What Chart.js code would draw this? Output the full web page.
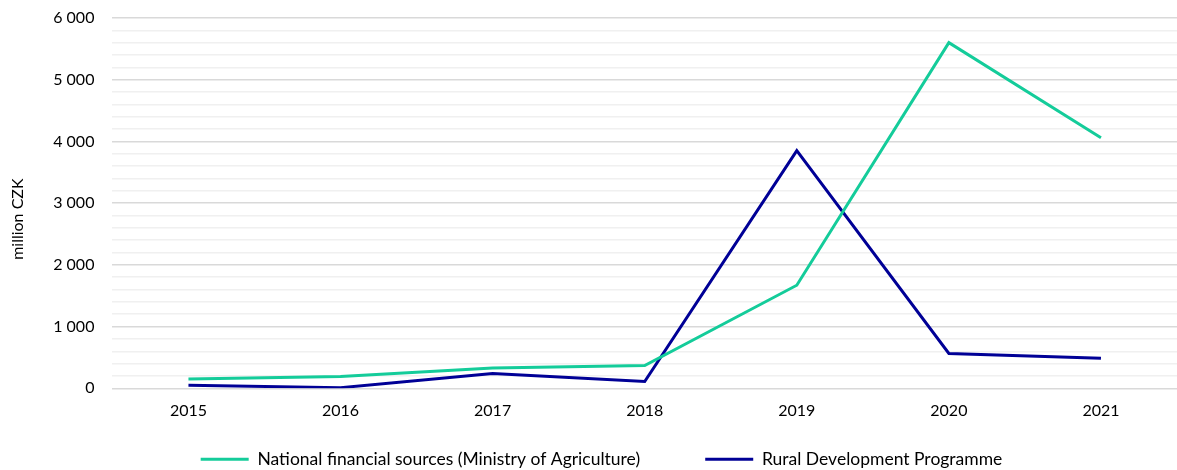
<!DOCTYPE html>
<html lang="en">
<head>
  <meta charset="UTF-8">
  <title>million CZK</title>
  <script src="https://cdn.jsdelivr.net/npm/chart.js"></script>
  <style>
    html, body {
      margin: 0;
      padding: 0;
      background: #fff;
    }
    #wrap {
      width: 1177px;
      height: 470px;
    }
  </style>
</head>
<body>

<div id="wrap"><canvas id="chart"></canvas></div>

<script>
const years = ['2015', '2016', '2017', '2018', '2019', '2020', '2021'];
const nationalSources = [150, 190, 330, 370, 1670, 5600, 4060];
const ruralProgramme = [50, 10, 240, 110, 3850, 565, 485];
const yTicks = [0, 1000, 2000, 3000, 4000, 5000, 6000];

// "6 000" style thousands separator
function fmt(v) {
  return String(v).replace(/\B(?=(\d{3})+(?!\d))/g, ' ');
}

const ctx = document.getElementById('chart').getContext('2d');
new Chart(ctx, {
  type: 'line',
  data: {
    labels: years,
    datasets: [{
      label: 'National financial sources (Ministry of Agriculture)',
      data: nationalSources,
      borderColor: '#14CC9A',
      backgroundColor: '#14CC9A',
      borderWidth: 3,
      pointRadius: 0,
      tension: 0
    }, {
      label: 'Rural Development Programme',
      data: ruralProgramme,
      borderColor: '#000096',
      backgroundColor: '#000096',
      borderWidth: 3,
      pointRadius: 0,
      tension: 0
    }]
  },
  options: {
    responsive: true,
    maintainAspectRatio: false,
    animation: false,
    layout: {
      // wide left pad moves the legend centre right; y axis is narrowed to match
      padding: { top: 18, right: 0, left: 26, bottom: -8 }
    },
    scales: {
      x: {
        offset: true,
        grid: { display: false, drawTicks: false },
        border: { display: false },
        ticks: {
          color: '#000',
          padding: 13,
          font: { family: 'Lato', size: 16 }
        }
      },
      y: {
        min: 0,
        max: 6000,
        border: { display: false },
        grid: {
          drawTicks: false,
          lineWidth: 1.5,
          color: c => (c.tick && c.tick.value % 1000 === 0) ? '#d9d9d9' : '#f0f0f0'
        },
        ticks: {
          stepSize: 200,
          autoSkip: false,
          padding: 18,
          color: '#000',
          font: { family: 'Lato', size: 16 },
          callback: v => yTicks.includes(v) ? fmt(v) : ''
        },
        // tick padding otherwise pushes the plot top down
        afterFit: s => { s.paddingTop = 0; s.width -= 4; },
        title: {
          display: true,
          text: 'million CZK\u2003\u2003\u2002',
          color: '#000',
          padding: { top: -18, bottom: 12 },
          font: { family: 'Lato', size: 16 }
        }
      }
    },
    plugins: {
      legend: {
        position: 'bottom',
        labels: {
          boxWidth: 48,
          boxHeight: 3,
          padding: 17,
          color: '#000',
          font: { family: 'Lato', size: 17.5 },
          // thin line swatch, extra room after the first entry
          generateLabels: chart => Chart.defaults.plugins.legend.labels.generateLabels(chart)
            .map((l, i) => Object.assign(l, {
              lineWidth: 0,
              text: i === 0 ? l.text + '\u2003\u2003\u2003\u2002' : l.text
            }))
        }
      },
      tooltip: { enabled: false }
    }
  }
});
</script>

</body>
</html>
